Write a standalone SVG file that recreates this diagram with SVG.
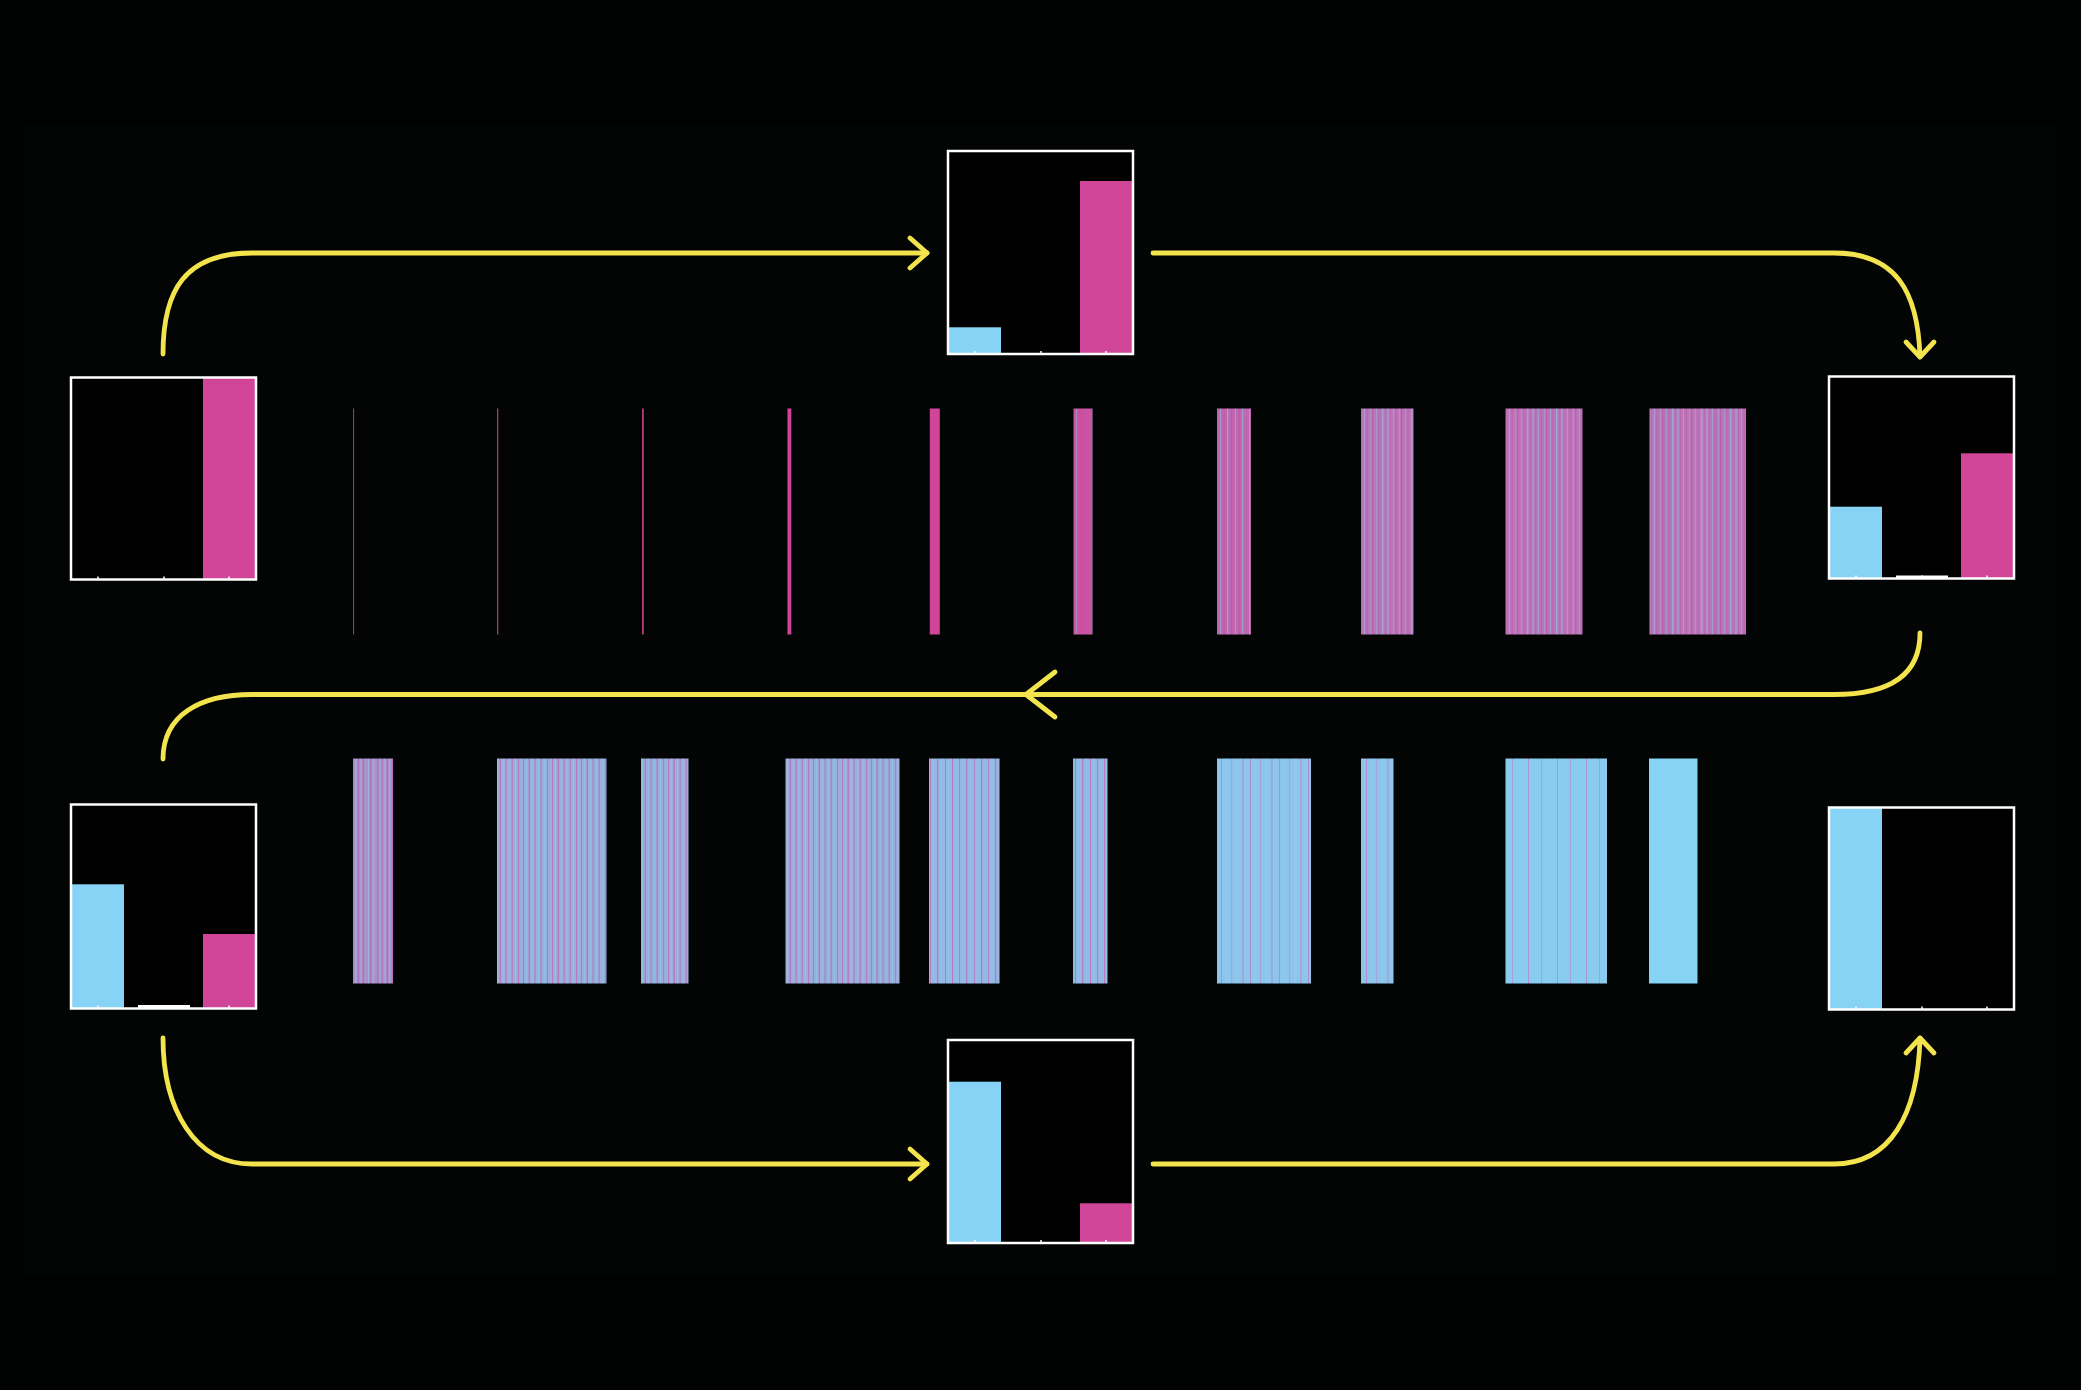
<svg xmlns="http://www.w3.org/2000/svg" width="2081" height="1390" viewBox="0 0 2081 1390">
<style>
.frame{fill:none;stroke:#ffffff;stroke-width:2.5}
.bg{fill:#000000}
.pink{fill:#D14599}
.blue{fill:#86D3F5}
.wbar{fill:#ffffff}
.tick{stroke:#ffffff;stroke-width:1.5}
.conn{fill:none;stroke:#F3E34C;stroke-width:4.8;stroke-linecap:round;stroke-linejoin:round}
.lp{fill:#D14599;opacity:0.5}
.lb{fill:#86D3F5;opacity:0.5}
</style>
<defs>
<pattern id="p10" patternUnits="userSpaceOnUse" width="29" height="10">
<rect width="29" height="10" fill="#CA53A2"/>
<rect class="lb" x="3" width="0.8" height="10"/><rect class="lp" x="8" width="1.5" height="10"/><rect class="lb" x="19" width="0.9" height="10"/><rect class="lp" x="23" width="1.2" height="10"/>
</pattern>
<pattern id="p25" patternUnits="userSpaceOnUse" width="29" height="10">
<rect width="29" height="10" fill="#BE68B0"/>
<rect class="lb" x="2" width="1" height="10"/><rect class="lp" x="5.5" width="1.5" height="10"/><rect class="lb" x="9" width="1.3" height="10"/><rect class="lp" x="13" width="1.2" height="10"/><rect class="lb" x="17" width="1" height="10"/><rect class="lp" x="20.5" width="1.6" height="10"/><rect class="lb" x="24" width="1.2" height="10"/>
</pattern>
<pattern id="p33" patternUnits="userSpaceOnUse" width="29" height="10">
<rect width="29" height="10" fill="#B777B9"/>
<rect class="lb" x="1" width="0.8" height="10"/><rect class="lp" x="3.5" width="1.2" height="10"/><rect class="lb" x="7" width="0.6" height="10"/><rect class="lp" x="9" width="1.5" height="10"/><rect class="lb" x="13" width="0.7" height="10"/><rect class="lp" x="15.5" width="1" height="10"/><rect class="lb" x="19" width="1.4" height="10"/><rect class="lp" x="22" width="0.6" height="10"/><rect class="lb" x="24.5" width="1.1" height="10"/><rect class="lp" x="27" width="0.6" height="10"/>
</pattern>
<pattern id="b50" patternUnits="userSpaceOnUse" width="29" height="10">
<rect width="29" height="10" fill="#A893CC"/>
<rect class="lp" x="0" width="1.5" height="10"/><rect class="lb" x="2.5" width="1" height="10"/><rect class="lp" x="4.5" width="1" height="10"/><rect class="lb" x="7.5" width="1.2" height="10"/><rect class="lp" x="9.5" width="1.6" height="10"/><rect class="lb" x="12.5" width="1" height="10"/><rect class="lp" x="14.5" width="1.5" height="10"/><rect class="lb" x="20" width="1" height="10"/><rect class="lp" x="22" width="1.5" height="10"/><rect class="lb" x="24.5" width="1" height="10"/>
</pattern>
<pattern id="b35" patternUnits="userSpaceOnUse" width="29" height="10">
<rect width="29" height="10" fill="#99B0DE"/>
<rect class="lp" x="1" width="1" height="10"/><rect class="lb" x="4" width="0.8" height="10"/><rect class="lp" x="6.5" width="1.5" height="10"/><rect class="lb" x="10" width="0.7" height="10"/><rect class="lp" x="12.5" width="1.2" height="10"/><rect class="lb" x="16" width="0.9" height="10"/><rect class="lp" x="18.5" width="1.3" height="10"/><rect class="lb" x="22" width="0.8" height="10"/><rect class="lp" x="25" width="1.1" height="10"/>
</pattern>
<pattern id="b25" patternUnits="userSpaceOnUse" width="29" height="10">
<rect width="29" height="10" fill="#93B9E4"/>
<rect class="lp" x="2" width="1" height="10"/><rect class="lb" x="5.5" width="0.7" height="10"/><rect class="lp" x="9" width="1.3" height="10"/><rect class="lb" x="13" width="0.8" height="10"/><rect class="lp" x="17" width="1" height="10"/><rect class="lb" x="20.5" width="0.6" height="10"/><rect class="lp" x="24" width="1.2" height="10"/>
</pattern>
<pattern id="b15" patternUnits="userSpaceOnUse" width="29" height="10">
<rect width="29" height="10" fill="#8DC5EC"/>
<rect class="lp" x="3" width="0.8" height="10"/><rect class="lb" x="8" width="1" height="10"/><rect class="lp" x="13.5" width="0.6" height="10"/><rect class="lb" x="19" width="1" height="10"/><rect class="lp" x="24.5" width="0.9" height="10"/>
</pattern>
<pattern id="b08" patternUnits="userSpaceOnUse" width="29" height="10">
<rect width="29" height="10" fill="#8ACCF0"/>
<rect class="lp" x="4" width="0.6" height="10"/><rect class="lb" x="12" width="1.5" height="10"/><rect class="lp" x="20" width="0.8" height="10"/>
</pattern>
</defs>

<rect x="0" y="0" width="2081" height="1390" fill="#010202"/>
<rect x="24" y="126" width="2033" height="1148" fill="#030505"/>

<g id="strips-top">
<rect x="353" y="408.5" width="1.1" height="226" class="pink" opacity="0.75"/>
<rect x="497" y="408.5" width="1.3" height="226" class="pink" opacity="0.8"/>
<rect x="642" y="408.5" width="1.8" height="226" class="pink" opacity="0.85"/>
<rect x="787.5" y="408.5" width="3.8" height="226" class="pink"/>
<rect x="929.8" y="408.5" width="10" height="226" class="pink"/>
<rect x="1073.5" y="408.5" width="19" height="226" fill="url(#p10)"/>
<rect x="1217" y="408.5" width="34" height="226" fill="url(#p25)"/>
<rect x="1361" y="408.5" width="52.5" height="226" fill="url(#p33)"/>
<rect x="1505.5" y="408.5" width="77" height="226" fill="url(#p33)"/>
<rect x="1649.5" y="408.5" width="96.5" height="226" fill="url(#p33)"/>
</g>

<g id="strips-bottom">
<rect x="353" y="758.5" width="40" height="225" fill="url(#b50)"/>
<rect x="497" y="758.5" width="109.5" height="225" fill="url(#b35)"/>
<rect x="641" y="758.5" width="47.5" height="225" fill="url(#b35)"/>
<rect x="785.5" y="758.5" width="114" height="225" fill="url(#b35)"/>
<rect x="929" y="758.5" width="70.5" height="225" fill="url(#b25)"/>
<rect x="1073" y="758.5" width="34.5" height="225" fill="url(#b25)"/>
<rect x="1217" y="758.5" width="94" height="225" fill="url(#b15)"/>
<rect x="1361" y="758.5" width="32.5" height="225" fill="url(#b15)"/>
<rect x="1505.5" y="758.5" width="101.5" height="225" fill="url(#b08)"/>
<rect x="1649" y="758.5" width="48.5" height="225" class="blue"/>
</g>

<g id="hist-left-top" transform="translate(71,377.5)">
<rect class="bg" width="185" height="202"/>
<rect class="pink" x="132" y="0" width="52" height="202"/>
<g class="tick"><line x1="27" y1="202" x2="27" y2="199"/><line x1="93" y1="202" x2="93" y2="199"/><line x1="158" y1="202" x2="158" y2="199"/></g>
<rect class="frame" width="185" height="202"/>
</g>

<g id="hist-top-middle" transform="translate(948,151)">
<rect class="bg" width="185" height="203"/>
<rect class="blue" x="1" y="176.3" width="52" height="26.7"/>
<rect class="pink" x="132" y="30" width="52" height="173"/>
<g class="tick"><line x1="27" y1="203" x2="27" y2="200"/><line x1="93" y1="203" x2="93" y2="200"/><line x1="158" y1="203" x2="158" y2="200"/></g>
<rect class="frame" width="185" height="203"/>
</g>

<g id="hist-right-top" transform="translate(1829,376.5)">
<rect class="bg" width="185" height="202"/>
<rect class="blue" x="1" y="130.2" width="52" height="71.8"/>
<rect class="wbar" x="67" y="199" width="52" height="3"/>
<rect class="pink" x="132" y="76.8" width="52" height="125.2"/>
<g class="tick"><line x1="27" y1="202" x2="27" y2="199"/><line x1="93" y1="202" x2="93" y2="199"/><line x1="158" y1="202" x2="158" y2="199"/></g>
<rect class="frame" width="185" height="202"/>
</g>

<g id="hist-left-bottom" transform="translate(71,804.5)">
<rect class="bg" width="185" height="204"/>
<rect class="blue" x="1" y="79.8" width="52" height="124.2"/>
<rect class="wbar" x="67" y="200.5" width="52" height="3.5"/>
<rect class="pink" x="132" y="129.5" width="52" height="74.5"/>
<g class="tick"><line x1="27" y1="204" x2="27" y2="201"/><line x1="93" y1="204" x2="93" y2="201"/><line x1="158" y1="204" x2="158" y2="201"/></g>
<rect class="frame" width="185" height="204"/>
</g>

<g id="hist-right-bottom" transform="translate(1829,807.5)">
<rect class="bg" width="185" height="202"/>
<rect class="blue" x="1" y="0" width="52" height="202"/>
<g class="tick"><line x1="27" y1="202" x2="27" y2="199"/><line x1="93" y1="202" x2="93" y2="199"/><line x1="158" y1="202" x2="158" y2="199"/></g>
<rect class="frame" width="185" height="202"/>
</g>

<g id="hist-bottom-middle" transform="translate(948,1040)">
<rect class="bg" width="185" height="203"/>
<rect class="blue" x="1" y="41.7" width="52" height="161.3"/>
<rect class="pink" x="132" y="163.3" width="52" height="39.7"/>
<g class="tick"><line x1="27" y1="203" x2="27" y2="200"/><line x1="93" y1="203" x2="93" y2="200"/><line x1="158" y1="203" x2="158" y2="200"/></g>
<rect class="frame" width="185" height="203"/>
</g>

<g id="connectors">
<path class="conn" d="M163,354 C163,290 185,253 252,253 H927"/>
<path class="conn" d="M910,238 L927,253 L910,268"/>
<path class="conn" d="M1153,253 H1834 C1895,253 1918,290 1920,357"/>
<path class="conn" d="M1906,342 L1920,357 L1934,342"/>
<path class="conn" d="M1920,633 C1920,675 1890,694.5 1834,694.5 H252 C200,694.5 163,715 163,759"/>
<path class="conn" d="M1055,672 L1026,694.5 L1055,717"/>
<path class="conn" d="M163,1038 C163,1110 195,1164 252,1164 H927"/>
<path class="conn" d="M910,1149 L927,1164 L910,1179"/>
<path class="conn" d="M1153,1164 H1834 C1890,1164 1918,1115 1920,1038"/>
<path class="conn" d="M1906,1053 L1920,1038 L1934,1053"/>
</g>
</svg>
